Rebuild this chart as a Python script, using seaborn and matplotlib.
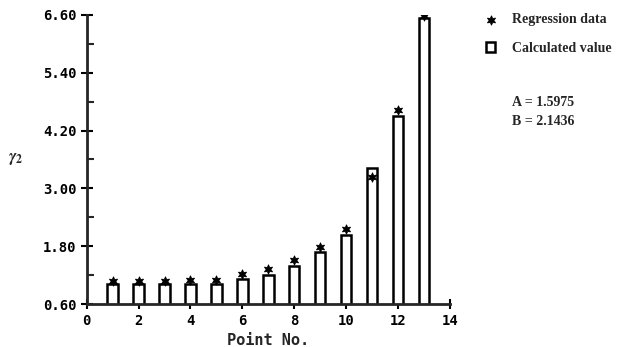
import numpy as np
import pandas as pd
import matplotlib
matplotlib.use('Agg')
import matplotlib.pyplot as plt
import seaborn as sns

# values
points = [1, 2, 3, 4, 5, 6, 7, 8, 9, 10, 11, 12, 13]
calculated = [1.01, 1.01, 1.01, 1.01, 1.02, 1.12, 1.21, 1.38, 1.67, 2.03, 3.43, 4.51, 6.54]
regression = [1.08, 1.08, 1.08, 1.09, 1.10, 1.22, 1.32, 1.51, 1.79, 2.15, 3.23, 4.63, 6.58]
y_ticks = [0.6, 1.8, 3.0, 4.2, 5.4, 6.6]
x_ticks = [0, 2, 4, 6, 8, 10, 12, 14]
A_value = '1.5975'
B_value = '2.1436'

df = pd.DataFrame({'point': points, 'calculated': calculated, 'regression': regression})

sns.set_style('ticks')
plt.rcParams['font.family'] = ['DejaVu Sans Mono']
plt.rcParams['font.weight'] = 'bold'
plt.rcParams['mathtext.fontset'] = 'stix'

fig = plt.figure(figsize=(6.29, 3.47), dpi=100)
ax = fig.add_axes([0.1378, 0.1239, 0.5776, 0.8329])

sns.barplot(data=df, x='point', y='calculated', native_scale=True, width=0.4,
            color='white', edgecolor='black', linewidth=1.8, ax=ax,
            label='Calculated value')
sns.scatterplot(data=df, x='point', y='regression', marker=(6, 1, 0), s=45,
                color='black', edgecolor='black', linewidth=0.6, ax=ax,
                label='Regression data', zorder=5)

ax.set_xlim(0, 14)
ax.set_ylim(0.6, 6.6)
ax.set_xticks(x_ticks)
ax.set_xticklabels([str(t) for t in x_ticks])
ax.set_yticks(y_ticks)
ax.set_yticklabels(['%.2f' % t for t in y_ticks])
ax.set_yticks(np.arange(1.2, 6.6, 1.2), minor=True)

sns.despine(ax=ax)
for s in ['left', 'bottom']:
    ax.spines[s].set_linewidth(2)
ax.tick_params(axis='both', which='major', direction='inout', length=8, width=1.5,
               labelsize=10, colors='black')
ax.tick_params(axis='x', which='major', length=7, pad=4)
ax.tick_params(axis='y', which='minor', direction='in', length=5, width=1.5)

ax.set_xlabel('Point No.', fontsize=11, fontweight='bold')
ax.xaxis.set_label_coords(0.5, -0.10)
ax.set_ylabel(r'$\gamma_2$', rotation=0, fontsize=12)
ax.yaxis.set_label_coords(-0.195, 0.474)

# stars first, like the reference
handles, labels = ax.get_legend_handles_labels()
order = [labels.index('Regression data'), labels.index('Calculated value')]
ax.legend([handles[i] for i in order], [labels[i] for i in order],
          loc='upper left', bbox_to_anchor=(1.065, 1.05), frameon=False,
          handlelength=0.65, handleheight=0.65, handletextpad=1.2,
          labelspacing=1.15,
          prop={'family': 'Liberation Serif', 'size': 10, 'weight': 'bold'})

fig.text(512 / 629, 1 - 103 / 347, 'A = ' + A_value, family='Liberation Serif',
         fontsize=10, fontweight='bold', va='center')
fig.text(512 / 629, 1 - 122 / 347, 'B = ' + B_value, family='Liberation Serif',
         fontsize=10, fontweight='bold', va='center')

fig.savefig('out.png', dpi=100)
